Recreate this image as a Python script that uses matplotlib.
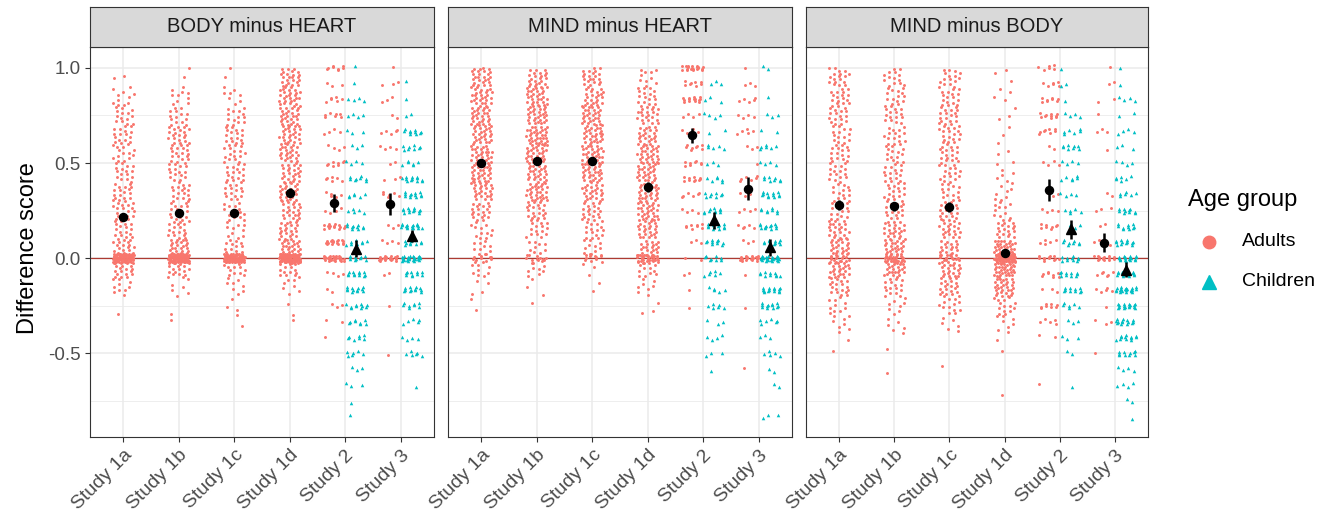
import numpy as np
import matplotlib
matplotlib.use('Agg')
import matplotlib.pyplot as plt
from matplotlib.lines import Line2D

plt.rcParams['font.family'] = ['Liberation Sans', 'DejaVu Sans']

# Data

studies = ['Study 1a', 'Study 1b', 'Study 1c', 'Study 1d', 'Study 2', 'Study 3']
panels = ['BODY minus HEART', 'MIND minus HEART', 'MIND minus BODY']

# Studies 1a-1d (adults, continuous scores): counts per 0.1 bin from -0.9 up to 1.0,
# plus the pile of answers sitting right on 0
bin_edges = np.round(np.arange(-0.9, 1.01, 0.1), 2)

bh_cont = [[0, 0, 0, 0, 0, 0, 1, 10, 22, 22, 16, 18, 18, 16, 14, 16, 14, 10, 3],
           [0, 0, 0, 0, 0, 1, 1, 6, 20, 28, 18, 16, 18, 16, 18, 20, 14, 10, 2],
           [0, 0, 0, 0, 0, 2, 3, 8, 16, 16, 10, 14, 16, 16, 16, 16, 14, 8, 2],
           [0, 0, 0, 0, 0, 1, 2, 8, 18, 30, 24, 22, 24, 24, 26, 26, 26, 28, 24]]
bh_zero = [60, 70, 60, 70]

mh_cont = [[0, 0, 0, 0, 0, 0, 2, 4, 10, 12, 12, 20, 26, 30, 30, 28, 28, 28, 26],
           [0, 0, 0, 0, 0, 0, 1, 3, 10, 12, 16, 20, 30, 28, 30, 34, 30, 28, 24],
           [0, 0, 0, 0, 0, 0, 0, 2, 3, 12, 16, 20, 26, 30, 30, 30, 28, 24, 22],
           [0, 0, 0, 0, 0, 0, 3, 8, 14, 26, 26, 28, 30, 28, 28, 24, 22, 16, 10]]
mh_zero = [8, 8, 10, 25]

mb_cont = [[0, 0, 0, 0, 2, 8, 10, 18, 28, 26, 22, 14, 14, 16, 16, 14, 16, 18, 18],
           [0, 0, 1, 0, 1, 6, 8, 16, 30, 30, 24, 18, 16, 16, 14, 16, 16, 14, 14],
           [0, 0, 0, 1, 0, 6, 14, 20, 26, 24, 22, 18, 14, 16, 18, 18, 18, 16, 16],
           [0, 1, 0, 0, 2, 8, 14, 30, 45, 40, 20, 10, 8, 6, 3, 3, 3, 4, 3]]
mb_zero = [10, 15, 6, 40]

# Studies 2 and 3 (discrete scores, steps of 1/12): counts per level from -1 to 1
levels = np.arange(-12, 13) / 12

bh_s2_adults = [0, 0, 0, 0, 0, 0, 0, 1, 2, 3, 2, 4, 30, 18, 14, 4, 5, 6, 8, 4, 4, 7, 6, 3, 8]
bh_s2_children = [0, 0, 1, 1, 3, 3, 6, 7, 8, 10, 12, 12, 10, 8, 10, 5, 6, 8, 4, 3, 3, 4, 4, 1, 1]
bh_s3_adults = [0, 0, 0, 0, 0, 0, 1, 0, 0, 1, 0, 2, 20, 4, 3, 0, 6, 3, 2, 4, 5, 2, 3, 3, 1]
bh_s3_children = [0, 0, 0, 0, 1, 0, 6, 4, 5, 8, 12, 10, 25, 10, 16, 12, 12, 12, 6, 8, 10, 2, 1, 1, 0]

mh_s2_adults = [0, 0, 0, 0, 0, 0, 0, 0, 0, 1, 1, 2, 2, 3, 8, 4, 6, 10, 8, 8, 4, 4, 14, 8, 20]
mh_s2_children = [0, 0, 0, 0, 0, 1, 3, 4, 3, 6, 5, 6, 8, 10, 12, 10, 8, 6, 3, 5, 2, 4, 3, 3, 0]
mh_s3_adults = [0, 0, 0, 0, 0, 1, 0, 0, 0, 1, 0, 1, 20, 3, 5, 4, 3, 6, 1, 3, 5, 4, 5, 3, 1]
mh_s3_children = [0, 0, 3, 0, 2, 2, 5, 3, 6, 12, 14, 10, 25, 10, 12, 8, 12, 8, 4, 6, 2, 3, 1, 0, 2]

mb_s2_adults = [0, 0, 0, 0, 1, 0, 0, 2, 5, 8, 3, 8, 12, 5, 8, 4, 3, 0, 4, 2, 8, 10, 8, 6, 6]
mb_s2_children = [0, 0, 0, 0, 1, 0, 2, 3, 3, 6, 10, 10, 10, 8, 3, 5, 4, 6, 4, 8, 6, 4, 1, 2, 1]
mb_s3_adults = [0, 0, 0, 0, 0, 0, 1, 0, 3, 1, 5, 6, 14, 4, 2, 3, 2, 0, 0, 1, 3, 1, 2, 2, 1]
mb_s3_children = [0, 0, 1, 2, 4, 4, 10, 12, 14, 16, 20, 14, 18, 12, 10, 10, 6, 6, 4, 3, 4, 2, 4, 1, 1]

# group means with error bar half-widths (adults: all six studies, children: studies 2 and 3)
bh_adult_mean = [0.215, 0.235, 0.24, 0.345, 0.29, 0.285]
bh_adult_err = [0.022, 0.02, 0.02, 0.025, 0.045, 0.06]
bh_child_mean = [0.05, 0.115]
bh_child_err = [0.045, 0.032]

mh_adult_mean = [0.50, 0.51, 0.51, 0.375, 0.645, 0.365]
mh_adult_err = [0.02, 0.02, 0.02, 0.025, 0.04, 0.06]
mh_child_mean = [0.20, 0.058]
mh_child_err = [0.045, 0.045]

mb_adult_mean = [0.28, 0.272, 0.27, 0.028, 0.358, 0.08]
mb_adult_err = [0.025, 0.025, 0.025, 0.015, 0.058, 0.05]
mb_child_mean = [0.152, -0.06]
mb_child_err = [0.05, 0.04]

panel_cont = [bh_cont, mh_cont, mb_cont]
panel_zero = [bh_zero, mh_zero, mb_zero]
panel_disc = [[bh_s2_adults, bh_s2_children, bh_s3_adults, bh_s3_children],
              [mh_s2_adults, mh_s2_children, mh_s3_adults, mh_s3_children],
              [mb_s2_adults, mb_s2_children, mb_s3_adults, mb_s3_children]]
panel_adult = [(bh_adult_mean, bh_adult_err), (mh_adult_mean, mh_adult_err), (mb_adult_mean, mb_adult_err)]
panel_child = [(bh_child_mean, bh_child_err), (mh_child_mean, mh_child_err), (mb_child_mean, mb_child_err)]

# Style

RED = '#F8766D'
TEAL = '#00BFC4'
GRID = '#EBEBEB'
DARK = '#333333'
JW = 0.19      # horizontal jitter half-width
DODGE = 0.2    # adults left, children right for studies 2 and 3

# deterministic jitter (R2 low-discrepancy sequence)
A1, A2 = 0.7548776662466927, 0.5698402909980532
counter = [0]


def spread(n):
    i = np.arange(counter[0] + 1, counter[0] + n + 1, dtype=float)
    counter[0] += n + 3
    return (0.5 + A1 * i) % 1, (0.5 + A2 * i) % 1


def cont_points(center, counts, zero_n):
    xs, ys = [], []
    for lo, n in zip(bin_edges[:-1], counts):
        if n == 0:
            continue
        u, v = spread(n)
        xs.append(center + (u - 0.5) * 2 * JW)
        ys.append(lo + v * 0.1)
    u, v = spread(zero_n)
    xs.append(center + (u - 0.5) * 2 * JW)
    ys.append((v - 0.5) * 2 * 0.024)
    return np.concatenate(xs), np.concatenate(ys)


def disc_points(center, counts):
    xs, ys = [], []
    for lev, n in zip(levels, counts):
        if n == 0:
            continue
        u, v = spread(n)
        xs.append(center + (u - 0.5) * 2 * JW)
        ys.append(lev + (v - 0.5) * 2 * 0.014)
    return np.concatenate(xs), np.concatenate(ys)


W, H = 1328, 518
fig = plt.figure(figsize=(W / 100, H / 100), dpi=100)

panel_px = [(90, 434), (448, 792), (806, 1148)]
top_px, bot_px, strip_top = 47, 437, 7
xpos = np.arange(1, len(studies) + 1)

for p in range(3):
    x0, x1 = panel_px[p]
    ax = fig.add_axes([x0 / W, (H - bot_px) / H, (x1 - x0) / W, (bot_px - top_px) / H])
    sx = fig.add_axes([x0 / W, (H - top_px) / H, (x1 - x0) / W, (top_px - strip_top) / H])

    # strip
    sx.set_facecolor('#D9D9D9')
    sx.set_xticks([])
    sx.set_yticks([])
    for s in sx.spines.values():
        s.set_color(DARK)
        s.set_linewidth(0.8)
    sx.text(0.5, 0.5, panels[p], ha='center', va='center', fontsize=14.5, color='#1A1A1A',
            transform=sx.transAxes)

    # grid
    ax.set_xlim(0.4, 6.6)
    ax.set_ylim(-0.94, 1.11)
    ax.set_xticks(xpos)
    ax.set_yticks([-0.5, 0.0, 0.5, 1.0])
    ax.set_yticks([-0.75, -0.25, 0.25, 0.75], minor=True)
    ax.grid(True, which='major', color=GRID, linewidth=1.1, zorder=0)
    ax.grid(True, which='minor', axis='y', color=GRID, linewidth=0.6, zorder=0)
    ax.set_axisbelow(True)
    ax.axhline(0, color='#AD3A32', linewidth=0.9, zorder=1)

    # raw points
    for k in range(4):
        x, y = cont_points(xpos[k], panel_cont[p][k], panel_zero[p][k])
        ax.scatter(x, y, s=4.5, color=RED, marker='o', linewidths=0, zorder=2)
    for j, k in enumerate([4, 5]):
        adults = panel_disc[p][2 * j]
        children = panel_disc[p][2 * j + 1]
        x, y = disc_points(xpos[k] - DODGE, adults)
        ax.scatter(x, y, s=4.5, color=RED, marker='o', linewidths=0, zorder=2)
        x, y = disc_points(xpos[k] + DODGE, children)
        ax.scatter(x, y, s=6.5, color=TEAL, marker='^', linewidths=0, zorder=2)

    # means with error bars
    am, ae = panel_adult[p]
    ax_x = np.array([1, 2, 3, 4, 5 - DODGE, 6 - DODGE])
    ax.errorbar(ax_x, am, yerr=ae, fmt='o', color='black', markersize=5.8,
                elinewidth=1.8, capsize=0, zorder=4)
    cm, ce = panel_child[p]
    ax.errorbar(np.array([5 + DODGE, 6 + DODGE]), cm, yerr=ce, fmt='^', color='black',
                markersize=6.8, elinewidth=1.8, capsize=0, zorder=4)

    # axes styling
    for s in ax.spines.values():
        s.set_color(DARK)
        s.set_linewidth(0.8)
    ax.tick_params(axis='both', which='major', length=3.5, width=0.8, color=DARK,
                   labelcolor='#4D4D4D', labelsize=13.5)
    ax.tick_params(axis='y', which='minor', length=0)
    ax.set_xticklabels(studies, rotation=45, ha='right', va='top', rotation_mode='anchor',
                       fontsize=14)
    if p == 0:
        ax.set_yticklabels(['-0.5', '0.0', '0.5', '1.0'])
    else:
        ax.tick_params(axis='y', which='both', length=0, labelleft=False)

fig.text(28 / W, (H - 248) / H, 'Difference score', rotation=90, ha='center', va='center',
         fontsize=17, color='black')

# legend
fig.text(1188 / W, (H - 200) / H, 'Age group', ha='left', va='center', fontsize=17)
fig.add_artist(Line2D([1209 / W], [(H - 242) / H], transform=fig.transFigure,
                      marker='o', markersize=9, color=RED, linestyle='none'))
fig.add_artist(Line2D([1209 / W], [(H - 282) / H], transform=fig.transFigure,
                      marker='^', markersize=10, color=TEAL, linestyle='none'))
fig.text(1242 / W, (H - 242) / H, 'Adults', ha='left', va='center', fontsize=14)
fig.text(1242 / W, (H - 282) / H, 'Children', ha='left', va='center', fontsize=14)

fig.savefig('out.png', dpi=100)
